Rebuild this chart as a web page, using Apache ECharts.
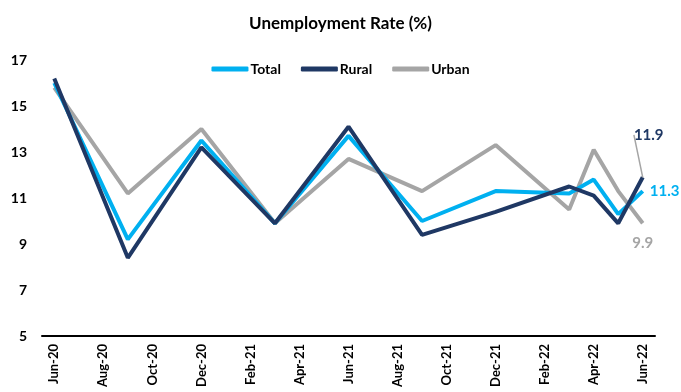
<!DOCTYPE html>
<html>
<head>
<meta charset="utf-8">
<script src="https://cdn.jsdelivr.net/npm/echarts@6/dist/echarts.min.js"></script>
<style>
  html, body { margin: 0; padding: 0; background: #fff; }
  #main { width: 681px; height: 392px; }
</style>
</head>
<body>
<div id="main"></div>
<script>
// monthly axis, Jun-20 .. Jun-22
var months = ['Jun-20', 'Jul-20', 'Aug-20', 'Sep-20', 'Oct-20', 'Nov-20', 'Dec-20',
    'Jan-21', 'Feb-21', 'Mar-21', 'Apr-21', 'May-21', 'Jun-21', 'Jul-21', 'Aug-21',
    'Sep-21', 'Oct-21', 'Nov-21', 'Dec-21', 'Jan-22', 'Feb-22', 'Mar-22', 'Apr-22',
    'May-22', 'Jun-22'];

// observations (null = no survey that month)
var total = [16.0, null, null, 9.2, null, null, 13.5, null, null, 9.9, null, null, 13.7,
    null, null, 10.0, null, null, 11.3, null, null, 11.2, 11.8, 10.3, 11.3];
var rural = [16.2, null, null, 8.4, null, null, 13.2, null, null, 9.9, null, null, 14.1,
    null, null, 9.4, null, null, 10.4, null, null, 11.5, 11.1, 9.9, 11.9];
var urban = [15.8, null, null, 11.2, null, null, 14.0, null, null, 9.9, null, null, 12.7,
    null, null, 11.3, null, null, 13.3, null, null, 10.5, 13.1, 11.3, 9.9];

var chartDom = document.getElementById('main');
var myChart = echarts.init(chartDom);
var option;

var font = 'Lato';

// only the last point gets a label
function lastLabel(arr, label) {
    return arr.map(function (v, i) {
        if (i === arr.length - 1) {
            return { value: v, label: label };
        }
        return v;
    });
}

option = {
    animation: false,
    title: {
        text: 'Unemployment Rate (%)',
        left: 'center',
        top: 10,
        textStyle: { fontFamily: font, fontSize: 17, fontWeight: 'bold', color: '#000' }
    },
    legend: {
        top: 57,
        left: 'center',
        itemWidth: 37,
        itemHeight: 5,
        itemGap: 20,
        icon: 'roundRect',
        textStyle: { fontFamily: font, fontSize: 14, fontWeight: 'bold', color: '#000', padding: [0, 0, 0, -3] },
        data: ['Total', 'Rural', 'Urban']
    },
    grid: { left: 42, right: 26, top: 60, bottom: 56 },
    xAxis: {
        type: 'category',
        data: months,
        boundaryGap: true,
        axisLine: { lineStyle: { color: '#000', width: 2 } },
        axisTick: { interval: 1, length: 5, lineStyle: { color: '#000', width: 1.5 } },
        axisLabel: {
            interval: 1,
            rotate: 90,
            margin: 8,
            fontFamily: font,
            fontSize: 13,
            fontWeight: 'bold',
            color: '#000'
        }
    },
    yAxis: {
        type: 'value',
        min: 5,
        max: 17,
        interval: 2,
        axisLine: { show: false },
        axisTick: { show: false },
        splitLine: { show: false },
        axisLabel: { margin: 15, fontFamily: font, fontSize: 14, fontWeight: 'bold', color: '#000' }
    },
    series: [
        {
            name: 'Total',
            type: 'line',
            connectNulls: true,
            symbol: 'circle',
            symbolSize: 0,
            showAllSymbol: true,
            color: '#00B0F0',
            lineStyle: { width: 4, color: '#00B0F0' },
            data: lastLabel(total, {
                show: true, position: 'right', distance: 7,
                fontFamily: font, fontSize: 15, fontWeight: 'bold', color: '#00B0F0'
            })
        },
        {
            name: 'Rural',
            type: 'line',
            connectNulls: true,
            symbol: 'circle',
            symbolSize: 0,
            showAllSymbol: true,
            color: '#1F3864',
            lineStyle: { width: 4, color: '#1F3864' },
            z: 3,
            labelLine: { show: true, lineStyle: { color: '#A5A5A5', width: 1.5 } },
            labelLayout: { dx: 6, dy: -30 },
            data: lastLabel(rural, {
                show: true, position: 'top', distance: 5,
                fontFamily: font, fontSize: 15, fontWeight: 'bold', color: '#1F3864'
            })
        },
        {
            name: 'Urban',
            type: 'line',
            connectNulls: true,
            symbol: 'circle',
            symbolSize: 0,
            showAllSymbol: true,
            color: '#A5A5A5',
            lineStyle: { width: 4, color: '#A5A5A5' },
            z: 1,
            data: lastLabel(urban, {
                show: true, position: 'bottom', distance: 12,
                fontFamily: font, fontSize: 15, fontWeight: 'bold', color: '#A5A5A5'
            })
        }
    ]
};

option && myChart.setOption(option);
window.onresize = function () {
    myChart.resize();
};
</script>
</body>
</html>
